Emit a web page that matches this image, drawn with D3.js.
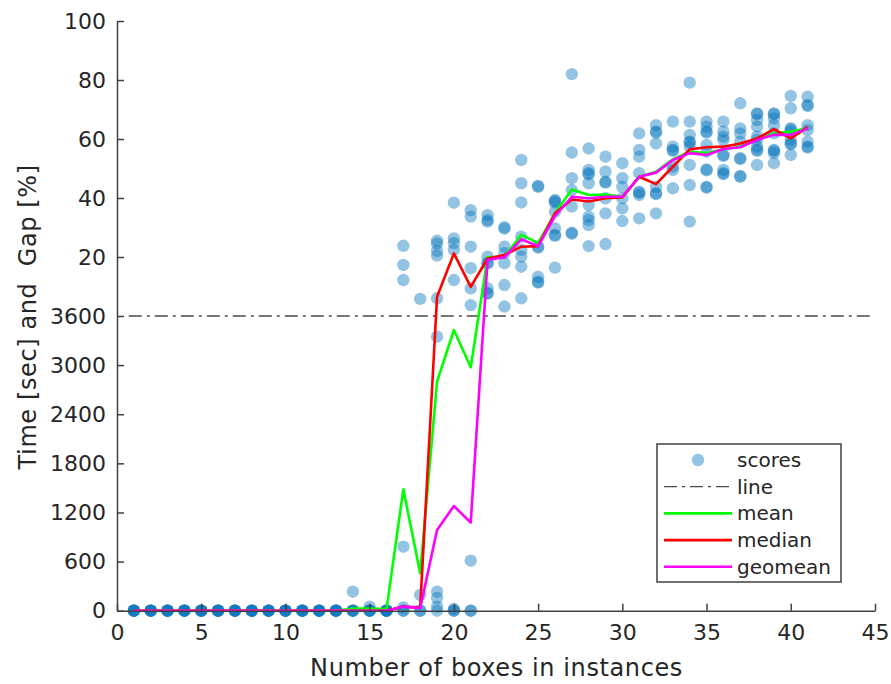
<!DOCTYPE html>
<html>
<head>
<meta charset="utf-8">
<script src="https://cdn.jsdelivr.net/npm/d3@7"></script>
<style>
  body { margin: 0; background: #fff; }
  svg { display: block; font-family: "DejaVu Sans", sans-serif; }
</style>
</head>
<body>
<svg id="chart"></svg>
<script>
// number of boxes (x categories)
const boxes = [1,2,3,4,5,6,7,8,9,10,11,12,13,14,15,16,17,18,19,20,21,22,23,24,25,26,27,28,29,30,31,32,33,34,35,36,37,38,39,40,41];

// solved instances: time in seconds, boxes 1..21
const scoreSec = [
  [0,0,0,0,0],[0,0,0,0,0],[0,0,0,0,0],[0,0,0,0,0],[0,0,0,0,0],[0,0,0,0,0],[0,0,0,0,0],
  [0,0,0,0,0],[0,0,0,0,0],[0,0,0,0,0],[0,0,0,0,0],[0,0,0,0,0],[0,0,0,0,0],
  [0,0,0,0,232],[0,0,0,0,50],[0,0,0,0,0],[0,0,40,782],[0,0,192],
  [0,50,155,232,3347],[0,0,20],[0,0,611]
];
// unsolved instances: gap in %, boxes 17..41
const gapStart = 17;
const scoreGap = [
  [23.8,17.3,12.2],
  [5.8],
  [25.5,24.5,22,20.5,6],
  [38.4,26.3,24.7,22.4,12.2],
  [35.9,33.7,23.5,16.2,9.4,3.7],
  [34.2,32.5,32,20.1,17.9,17.9,9.4,7.7,7.7],
  [30.1,29.6,23.5,21.3,17.9,10.5,3.2],
  [52.9,45,38.5,26.9,22.4,20.1,16.7,6],
  [44.1,43.8,23.5,23.2,13.3,11.6,11.3],
  [39.3,38.9,38.5,35.4,29.7,27.5,27.2,16.4],
  [82,55.4,46.7,42.7,37.1,28.2,27.9],
  [56.8,49.5,48.4,48,45,37.6,33.7,32.5,30.8,23.7],
  [54,48.9,45.5,45.2,39.9,34.8,24.4],
  [51.8,46.7,43.8,39.9,36.5,32.2],
  [61.9,56.3,54,48.4,42.1,41.8,41,33.1],
  [64.7,62.5,62.2,58.5,43.8,41.6,41.3,34.8],
  [65.9,57.4,56.3,56,50.6,49.5,43.3],
  [79.1,65.9,61.4,59.1,58.8,57.4,51.2,44.4,32],
  [65.9,64.2,62.5,62.2,58,55.7,49.7,49.4,43.8,43.5],
  [65.9,62.5,60.8,59.7,54.6,54.3,49.5,48.4,48.1],
  [72.1,63.6,61.9,59.1,53.5,53.2,47.5,47.2],
  [68.7,68.4,66.4,64.2,60.8,59.7,57.4,56.3,56,51.2],
  [68.7,68.4,67,64.7,61.9,56.3,56,55.2,51.8],
  [74.6,70.4,63.6,63.3,62.5,59.7,58.5,58.2,54.6],
  [74.3,71.5,71.2,64.7,63,59.1,57.4,57.1]
];

// summary lines: seconds for the first boxes, gap % after
const meanSec = [0,0,0,0,0,0,0,0,0,0,0,0,0,25,25,20,1483,457,2798,3429,2973];
const meanGap = [19.9,20.1,27.5,24.8,34.8,42.9,41,41.2,40.4,47.2,48.9,53.1,55.7,55.2,56.5,57.4,59.9,61.9,62.5,63.6];
const medianSec = [0,0,0,0,0,0,0,0,0,0,0,0,0,0,0,0,50,40];
const medianGap = [6.5,21.2,9.9,19.5,20.7,23.5,23.7,34.8,39.5,38.8,39.9,40.2,47.2,44.7,50.6,56.5,57.2,57.4,58.5,60.2,63.3,60.2,64];
const geoSec = [0,0,0,0,0,0,0,0,0,0,0,0,0,0,0,0,50,30,986,1279,1075];
const geoGap = [19,19.9,26,23.7,33.9,40.4,39.9,40.4,40.4,47.2,48.6,52.9,55.2,54.6,56.6,57.2,59.7,61.4,61.4,63.6];

const timeLimit = 3600;
const limitSpan = [0.7, 44.8];

const xTicks = [0,5,10,15,20,25,30,35,40,45];
const timeTicks = [0,600,1200,1800,2400,3000,3600];
const gapTicks = [20,40,60,80,100];

const width = 891, height = 684;
const plotLeft = 117, plotRight = 875, plotBottom = 610.7, breakY = 316, plotTop = 21;

const svg = d3.select("#chart").attr("width", width).attr("height", height);

const x = d3.scaleLinear().domain([0, 45]).range([plotLeft, plotRight]);
const yTime = d3.scaleLinear().domain([0, 3600]).range([plotBottom, breakY]);
const yGap = d3.scaleLinear().domain([0, 100]).range([breakY, plotTop]);

const dotColor = "#0072BD";
const axisColor = "#404040";
const textColor = "#262626";

// time limit line
svg.append("line")
  .attr("x1", x(limitSpan[0])).attr("x2", x(limitSpan[1]))
  .attr("y1", yTime(timeLimit)).attr("y2", yTime(timeLimit))
  .attr("stroke", "#4a4a4a").attr("stroke-width", 1.3)
  .attr("stroke-dasharray", "13,5,3,5");

// scatter points
let pts = [];
scoreSec.forEach((vals, i) => vals.forEach(v => pts.push({ n: boxes[i], y: yTime(v) })));
scoreGap.forEach((vals, i) => vals.forEach(v => pts.push({ n: gapStart + i, y: yGap(v) })));

svg.append("g").selectAll("circle")
  .data(pts)
  .enter().append("circle")
    .attr("cx", d => x(d.n))
    .attr("cy", d => d.y)
    .attr("r", 6.2)
    .attr("fill", dotColor)
    .attr("fill-opacity", 0.42);

// summary lines
function series(secVals, gapVals) {
  let out = secVals.map((v, i) => ({ n: boxes[i], y: yTime(v) }));
  let off = secVals.length;
  gapVals.forEach((v, i) => out.push({ n: boxes[off + i], y: yGap(v) }));
  return out;
}
const line = d3.line().x(d => x(d.n)).y(d => d.y);

const lines = [
  { name: "mean", color: "#00ff00", data: series(meanSec, meanGap) },
  { name: "median", color: "#ff0000", data: series(medianSec, medianGap) },
  { name: "geomean", color: "#ff00ff", data: series(geoSec, geoGap) }
];
lines.forEach(l => {
  svg.append("path")
    .attr("d", line(l.data))
    .attr("fill", "none")
    .attr("stroke", l.color)
    .attr("stroke-width", 2.6)
    .attr("stroke-linejoin", "round");
});

// axes
function styleAxis(g) {
  g.selectAll("path.domain").attr("stroke", axisColor).attr("stroke-width", 1.5);
  g.selectAll(".tick line").attr("stroke", axisColor).attr("stroke-width", 1.5);
  g.selectAll(".tick text").attr("fill", textColor)
    .style("font-family", "DejaVu Sans").style("font-size", "22px");
}

svg.append("g")
  .attr("transform", `translate(0,${plotBottom})`)
  .call(d3.axisBottom(x).tickValues(xTicks).tickFormat(d3.format("d"))
    .tickSizeInner(-7).tickSizeOuter(0).tickPadding(14))
  .call(styleAxis);

svg.append("g")
  .attr("transform", `translate(${plotLeft},0)`)
  .call(d3.axisLeft(yTime).tickValues(timeTicks).tickFormat(d3.format("d"))
    .tickSizeInner(-7).tickSizeOuter(0).tickPadding(11))
  .call(styleAxis);

svg.append("g")
  .attr("transform", `translate(${plotLeft},0)`)
  .call(d3.axisLeft(yGap).tickValues(gapTicks).tickFormat(d3.format("d"))
    .tickSizeInner(-7).tickSizeOuter(0).tickPadding(11))
  .call(styleAxis);

// axis labels
svg.append("text")
  .attr("x", (plotLeft + plotRight) / 2 + 0.5)
  .attr("y", 676)
  .attr("text-anchor", "middle")
  .attr("fill", textColor)
  .style("font-size", "24px")
  .style("letter-spacing", "0.6px")
  .text("Number of boxes in instances");

svg.append("text")
  .attr("transform", `translate(36,${(plotTop + plotBottom) / 2 + 1}) rotate(-90)`)
  .attr("text-anchor", "middle")
  .attr("fill", textColor)
  .style("font-size", "24px")
  .style("letter-spacing", "0.6px")
  .style("white-space", "pre")
  .text("Time [sec] and  Gap [%]");

// legend
const lg = svg.append("g").attr("transform", "translate(657,444)");
lg.append("rect")
  .attr("width", 184).attr("height", 138)
  .attr("fill", "#fff").attr("stroke", axisColor).attr("stroke-width", 1.5);

const legendItems = [
  { name: "scores", kind: "dot" },
  { name: "line", kind: "dash" },
  { name: "mean", kind: "line", color: "#00ff00" },
  { name: "median", kind: "line", color: "#ff0000" },
  { name: "geomean", kind: "line", color: "#ff00ff" }
];
legendItems.forEach((it, i) => {
  const cy = 16 + i * 26.7;
  if (it.kind === "dot") {
    lg.append("circle").attr("cx", 41).attr("cy", cy).attr("r", 6.2)
      .attr("fill", dotColor).attr("fill-opacity", 0.42);
  } else if (it.kind === "dash") {
    lg.append("line").attr("x1", 7).attr("x2", 75).attr("y1", cy).attr("y2", cy)
      .attr("stroke", "#4a4a4a").attr("stroke-width", 1.3).attr("stroke-dasharray", "13,5,3,5");
  } else {
    lg.append("line").attr("x1", 7).attr("x2", 75).attr("y1", cy).attr("y2", cy)
      .attr("stroke", it.color).attr("stroke-width", 2.6);
  }
  lg.append("text")
    .attr("x", 80).attr("y", cy + 7)
    .attr("fill", textColor)
    .style("font-size", "20px")
    .text(it.name);
});
</script>
</body>
</html>
